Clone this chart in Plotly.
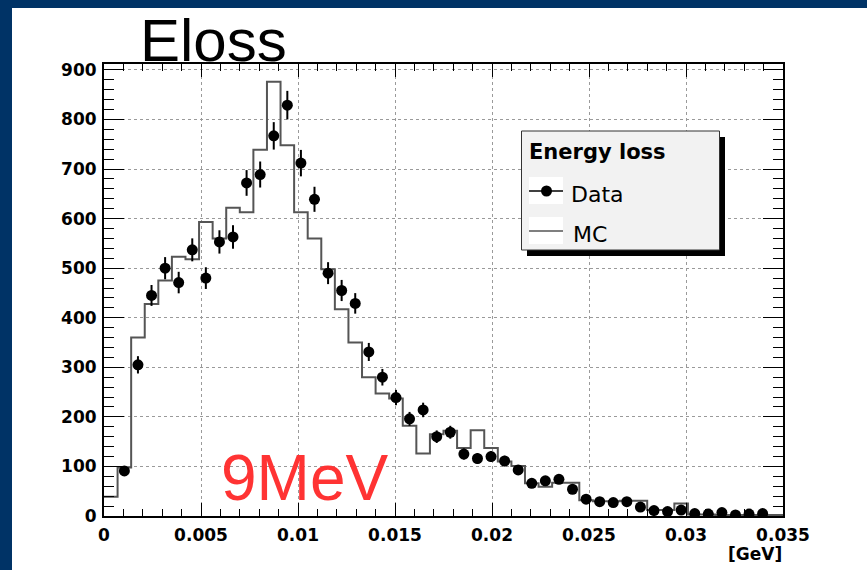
import numpy as np
import plotly.graph_objects as go

# Histogram binning: 50 bins of 0.0007 GeV from 0 to 0.035 GeV
bin_edges = np.linspace(0.0, 0.035, 51)
bin_centers = 0.5 * (bin_edges[:-1] + bin_edges[1:])

# Measured energy-loss counts per bin (0 = empty bin, not drawn)
data_counts = [0, 91, 305, 445, 500, 471, 537, 480, 553, 563,
               672, 689, 767, 829, 712, 639, 490, 455, 429, 331,
               280, 239, 196, 214, 160, 169, 125, 116, 120, 111,
               93, 66, 71, 74, 54, 34, 29, 27, 29, 18,
               11, 9, 12, 5, 4, 7, 2, 4, 5, 0]

# Simulated (MC) counts per bin
mc_counts = [39, 98, 360, 428, 475, 523, 518, 593, 560, 622,
             613, 739, 876, 748, 613, 560, 498, 417, 350, 280,
             247, 237, 182, 126, 165, 172, 137, 173, 137, 110,
             101, 66, 59, 67, 67, 32, 30, 30, 31, 31,
             12, 12, 25, 3, 3, 2, 2, 2, 2, 2]

W, H = 867, 570
L, R, T, B = 104, 783, 64, 516   # plot frame in pixels


def px(x):
    return (x - L) / (R - L)


def py(y):
    return (B - y) / (B - T)


data_arr = np.array(data_counts, dtype=float)
mask = data_arr > 0
data_x = bin_centers[mask]
data_y = data_arr[mask]
data_err = np.sqrt(data_y)

mc_x = list(bin_edges)
mc_y = list(mc_counts) + [mc_counts[-1]]

fig = go.Figure()

fig.add_trace(go.Scatter(
    x=mc_x, y=mc_y, mode="lines", line_shape="hv",
    line=dict(color="#555555", width=2), name="MC", showlegend=False,
))

fig.add_trace(go.Scatter(
    x=data_x, y=data_y, mode="markers",
    marker=dict(color="black", size=11),
    error_y=dict(type="data", array=data_err, thickness=2, width=0, color="black"),
    name="Data", showlegend=False,
))

tickfont = dict(family="DejaVu Sans", size=17, color="black", weight="bold")

fig.update_xaxes(
    range=[0, 0.035], dtick=0.005, tick0=0,
    showline=True, linecolor="black", linewidth=2, mirror="allticks",
    ticks="inside", ticklen=13, tickwidth=1, tickcolor="black",
    showgrid=True, gridcolor="#9a9a9a", griddash="dot", gridwidth=1,
    zeroline=False, tickfont=tickfont, ticklabelstandoff=3,
    minor=dict(dtick=0.001, ticks="inside", ticklen=7, tickcolor="black", showgrid=False),
)
fig.update_yaxes(
    range=[0, 912], dtick=100, tick0=0,
    showline=True, linecolor="black", linewidth=2, mirror="allticks",
    ticks="inside", ticklen=20, tickwidth=1, tickcolor="black",
    showgrid=True, gridcolor="#9a9a9a", griddash="dot", gridwidth=1,
    zeroline=False, tickfont=tickfont, ticklabelstandoff=2,
    minor=dict(dtick=20, ticks="inside", ticklen=10, tickcolor="black", showgrid=False),
)

shapes = [
    # white slide panel
    dict(type="rect", xref="paper", yref="paper", layer="below",
         x0=px(12), x1=px(W + 5), y0=py(8), y1=py(H + 5),
         fillcolor="white", line=dict(width=0)),
    # legend shadow and box
    dict(type="rect", xref="paper", yref="paper",
         x0=px(527), x1=px(725), y0=py(137), y1=py(256),
         fillcolor="black", line=dict(width=0)),
    dict(type="rect", xref="paper", yref="paper",
         x0=px(521.5), x1=px(719.5), y0=py(131), y1=py(250),
         fillcolor="#f2f2f2", line=dict(color="#333333", width=1)),
    # white patches behind legend symbols
    dict(type="rect", xref="paper", yref="paper",
         x0=px(529), x1=px(563), y0=py(177), y1=py(204),
         fillcolor="white", line=dict(width=0)),
    dict(type="rect", xref="paper", yref="paper",
         x0=px(529), x1=px(563), y0=py(217), y1=py(244),
         fillcolor="white", line=dict(width=0)),
    # Data symbol
    dict(type="line", xref="paper", yref="paper",
         x0=px(529), x1=px(563), y0=py(191), y1=py(191),
         line=dict(color="black", width=1.5)),
    dict(type="circle", xref="paper", yref="paper",
         x0=px(541), x1=px(552), y0=py(185.5), y1=py(196.5),
         fillcolor="black", line=dict(color="black", width=0)),
    # MC symbol
    dict(type="line", xref="paper", yref="paper",
         x0=px(529), x1=px(563), y0=py(231), y1=py(231),
         line=dict(color="#555555", width=1.5)),
]

annotations = [
    dict(text="Eloss", xref="paper", yref="paper", x=px(138), y=py(41),
         xanchor="left", yanchor="middle", showarrow=False,
         font=dict(family="Liberation Sans", size=60, color="black")),
    dict(text="9MeV", xref="paper", yref="paper", x=px(305), y=py(478),
         xanchor="center", yanchor="middle", showarrow=False,
         font=dict(family="Liberation Sans", size=64, color="#ff3333")),
    dict(text="[GeV]", xref="paper", yref="paper", x=px(784), y=py(554),
         xanchor="right", yanchor="middle", showarrow=False,
         font=dict(family="DejaVu Sans", size=17, color="black", weight="bold")),
    dict(text="Energy loss", xref="paper", yref="paper", x=px(527), y=py(152),
         xanchor="left", yanchor="middle", showarrow=False,
         font=dict(family="DejaVu Sans", size=21, color="black", weight="bold")),
    dict(text="Data", xref="paper", yref="paper", x=px(569), y=py(195),
         xanchor="left", yanchor="middle", showarrow=False,
         font=dict(family="DejaVu Sans", size=22, color="black")),
    dict(text="MC", xref="paper", yref="paper", x=px(571), y=py(234),
         xanchor="left", yanchor="middle", showarrow=False,
         font=dict(family="DejaVu Sans", size=22, color="black")),
]

fig.update_layout(
    width=W, height=H,
    margin=dict(l=L, r=W - R, t=T, b=H - B, pad=0),
    paper_bgcolor="#003366", plot_bgcolor="white",
    shapes=shapes, annotations=annotations, showlegend=False,
)

fig.write_html("out.html")
